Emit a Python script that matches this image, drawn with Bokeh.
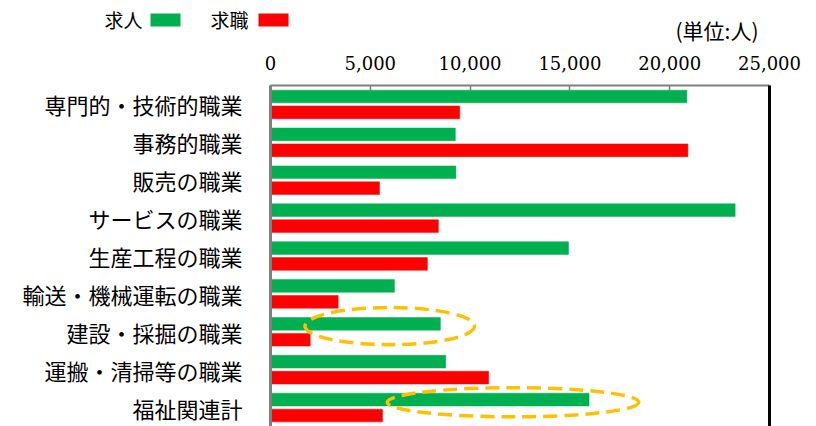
from bokeh.plotting import figure
from bokeh.models import Range1d, LinearAxis, FixedTicker, ColumnDataSource
from bokeh.transform import dodge
from bokeh.layouts import column
from bokeh.core.properties import value
from bokeh.embed import file_html
from bokeh.resources import INLINE

# ---- data ----
categories = ["専門的・技術的職業", "事務的職業", "販売の職業", "サービスの職業",
              "生産工程の職業", "輸送・機械運転の職業", "建設・採掘の職業",
              "運搬・清掃等の職業", "福祉関連計"]
kyujin = [20860, 9260, 9290, 23280, 14930, 6210, 8510, 8780, 15960]   # 求人
kyushoku = [9480, 20910, 5460, 8410, 7860, 3390, 1990, 10930, 5610]   # 求職
tick_values = [0, 5000, 10000, 15000, 20000, 25000]
tick_labels = ["0", "5,000", "10,000", "15,000", "20,000", "25,000"]
series_names = ["求人", "求職"]
unit_label = "(単位:人)"

# highlighted rows (dashed ellipses)
hl_rows = ["建設・採掘の職業", "福祉関連計"]
hl_x_center = [5975, 12150]
hl_x_width = [8500, 12600]
hl_y_offset = [-0.15, -0.14]
hl_height = [0.98, 0.77]

GREEN = "#00B050"
RED = "#FF0000"
JP = "Noto Sans CJK JP"

# ---- header strip (legend + unit), pixel-like coordinates ----
HW, HH = 808, 48
hdr = figure(width=HW, height=HH, x_range=Range1d(0, HW), y_range=Range1d(HH, 0),
             toolbar_location=None, output_backend="svg", min_border=0, title=None)
hdr.frame_align = False
hdr.axis.visible = False
hdr.grid.visible = False
hdr.outline_line_color = None
hdr.text(x=[142, 248], y=[19, 19], text=series_names, text_align="right",
         text_baseline="middle", text_font=value(JP), text_font_size="19px",
         text_color="black")
hdr.rect(x=[165, 273], y=[19.5, 19.5], width=30, height=13,
         fill_color=[GREEN, RED], line_color=None)
hdr.text(x=[758], y=[29], text=[unit_label], text_align="right",
         text_baseline="middle", text_font=value(JP), text_font_size="21px",
         text_color="black")

# ---- main chart ----
ypos = list(range(1, len(categories) + 1))
src = ColumnDataSource(dict(y=ypos, kyujin=kyujin, kyushoku=kyushoku))

p = figure(width=808, height=426 - HH, x_range=Range1d(0, 25000), y_range=Range1d(9.5, 0.5),
           x_axis_location="above", output_backend="svg", toolbar_location=None, title=None,
           min_border_left=270, min_border_right=39, min_border_top=85 - HH,
           min_border_bottom=0)
p.frame_align = False
p.outline_line_color = None
p.grid.visible = False

p.hbar(y=dodge("y", -0.21, range=p.y_range), right="kyujin", left=0, height=0.335,
       source=src, fill_color=GREEN, line_color=GREEN, line_width=0.5)
p.hbar(y=dodge("y", 0.21, range=p.y_range), right="kyushoku", left=0, height=0.335,
       source=src, fill_color=RED, line_color=RED, line_width=0.5)

# dashed highlight ellipses
hl_y = [categories.index(r) + 1 + off for r, off in zip(hl_rows, hl_y_offset)]
p.ellipse(x=hl_x_center, y=hl_y, width=hl_x_width, height=hl_height,
          fill_color=None, line_color="#FFC000", line_width=3.5, line_dash="14 7")

# top axis
xa = p.xaxis[0]
xa.ticker = FixedTicker(ticks=tick_values)
xa.major_label_overrides = {v: l for v, l in zip(tick_values, tick_labels)}
xa.major_label_text_font = "DejaVu Serif"
xa.major_label_text_font_size = "18px"
xa.major_label_text_color = "black"
xa.major_label_standoff = 16
xa.axis_line_color = "#808080"
xa.axis_line_width = 2
xa.major_tick_in = 5
xa.major_tick_out = 0
xa.major_tick_line_color = "#808080"
xa.major_tick_line_width = 1.5
xa.minor_tick_line_color = None

# left axis (categories)
ya = p.yaxis[0]
ya.ticker = FixedTicker(ticks=ypos)
ya.major_label_overrides = {i: c for i, c in zip(ypos, categories)}
ya.major_label_text_font = JP
ya.major_label_text_font_size = "22px"
ya.major_label_text_color = "black"
ya.major_label_standoff = 22
ya.axis_line_color = "#808080"
ya.axis_line_width = 3
ya.major_tick_line_color = None
ya.minor_tick_line_color = None

# right border
ra = LinearAxis(ticker=FixedTicker(ticks=[]), major_label_text_font_size="0px",
                axis_line_color="black", axis_line_width=3,
                major_tick_line_color=None, minor_tick_line_color=None)
p.add_layout(ra, "right")

layout = column(hdr, p, spacing=0)
open("out.html", "w").write(file_html(layout, INLINE))
